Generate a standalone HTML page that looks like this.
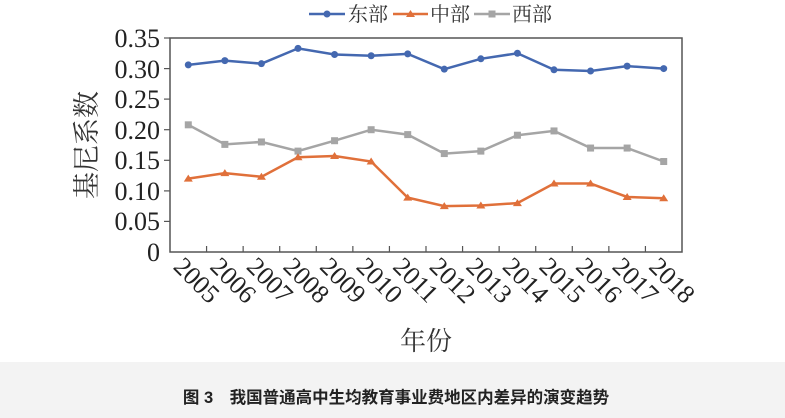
<!DOCTYPE html>
<html><head><meta charset="utf-8"><style>
html,body{margin:0;padding:0;background:#fff;width:785px;height:418px;overflow:hidden}
.serif{font-family:"Liberation Serif","Noto Serif CJK SC",serif}
</style></head><body>
<svg width="785" height="418" xmlns="http://www.w3.org/2000/svg" style="position:absolute;left:0;top:0">
<rect x="0" y="362" width="785" height="56" fill="#f3f3f3"/>
<text x="396" y="403" text-anchor="middle" font-family="'Liberation Sans','Noto Sans CJK SC',sans-serif" font-weight="bold" font-size="16.5" fill="#222">图 3　我国普通高中生均教育事业费地区内差异的演变趋势</text>
<rect x="170" y="38" width="512" height="214" fill="none" stroke="#555" stroke-width="1.5"/>
<g stroke="#555" stroke-width="1.2">
<line x1="164" y1="38" x2="170" y2="38"/><line x1="164" y1="68.6" x2="170" y2="68.6"/><line x1="164" y1="99.1" x2="170" y2="99.1"/><line x1="164" y1="129.7" x2="170" y2="129.7"/><line x1="164" y1="160.3" x2="170" y2="160.3"/><line x1="164" y1="190.9" x2="170" y2="190.9"/><line x1="164" y1="221.4" x2="170" y2="221.4"/>
</g>
<g id="xt" stroke="#555" stroke-width="1.2"></g>
<g class="serif" font-size="26" fill="#222" text-anchor="end">
<text x="160" y="47">0.35</text><text x="160" y="78">0.30</text><text x="160" y="108">0.25</text><text x="160" y="139">0.20</text><text x="160" y="169">0.15</text><text x="160" y="200">0.10</text><text x="160" y="230">0.05</text><text x="160" y="261">0</text>
</g>
<text class="serif" font-size="27" fill="#333" transform="translate(96,145) rotate(-90)" text-anchor="middle">基尼系数</text>
<text class="serif" font-size="26" fill="#333" x="426" y="350" text-anchor="middle">年份</text>
<line x1="309" y1="14" x2="345" y2="14" stroke="#4468b0" stroke-width="2.5"/><circle cx="327" cy="14" r="3.5" fill="#4468b0"/>
<text class="serif" font-size="20" fill="#333" x="348" y="21">东部</text>
<line x1="393" y1="14" x2="428" y2="14" stroke="#e0703a" stroke-width="2.5"/><path d="M410.5 10 L415 17 L406 17Z" fill="#e0703a"/>
<text class="serif" font-size="20" fill="#333" x="430" y="21">中部</text>
<line x1="474" y1="14" x2="510" y2="14" stroke="#a5a5a5" stroke-width="2.5"/><rect x="488.5" y="10.5" width="7" height="7" fill="#a5a5a5"/>
<text class="serif" font-size="20" fill="#333" x="512" y="21">西部</text>
<g id="series"></g>
<g id="xl" class="serif" font-size="26" fill="#222"></g>
</svg>
<script>
var NS="http://www.w3.org/2000/svg";
function X(i){return 170+36.571*(i+0.5)}
function Y(v){return 252-v/0.35*214}
var E=[.306,.313,.308,.333,.323,.321,.324,.299,.316,.325,.298,.296,.304,.300];
var C=[.120,.129,.123,.155,.157,.148,.089,.075,.076,.080,.112,.112,.090,.088];
var W=[.208,.176,.180,.165,.182,.200,.192,.161,.165,.191,.198,.170,.170,.148];
var s=document.getElementById('series'),xt=document.getElementById('xt'),xl=document.getElementById('xl');
for(var i=1;i<14;i++){var l=document.createElementNS(NS,'line');var x=170+36.571*i;l.setAttribute('x1',x);l.setAttribute('x2',x);l.setAttribute('y1',246);l.setAttribute('y2',252);xt.appendChild(l);}
for(var i=0;i<14;i++){var t=document.createElementNS(NS,'text');var x=X(i)-16,y=268;t.setAttribute('transform','translate('+x+','+y+') rotate(45)');t.textContent=2005+i;xl.appendChild(t);}
function draw(d,c,m){var p='';d.forEach(function(v,i){p+=(i?'L':'M')+X(i)+' '+Y(v)});var pa=document.createElementNS(NS,'path');pa.setAttribute('d',p);pa.setAttribute('fill','none');pa.setAttribute('stroke',c);pa.setAttribute('stroke-width','2.5');s.appendChild(pa);
d.forEach(function(v,i){var x=X(i),y=Y(v),e;if(m=='c'){e=document.createElementNS(NS,'circle');e.setAttribute('cx',x);e.setAttribute('cy',y);e.setAttribute('r',3.5);}else if(m=='t'){e=document.createElementNS(NS,'path');e.setAttribute('d','M'+x+' '+(y-4)+'L'+(x+4.5)+' '+(y+3)+'L'+(x-4.5)+' '+(y+3)+'Z');}else{e=document.createElementNS(NS,'rect');e.setAttribute('x',x-3.5);e.setAttribute('y',y-3.5);e.setAttribute('width',7);e.setAttribute('height',7);}e.setAttribute('fill',c);s.appendChild(e);});}
draw(W,'#a5a5a5','s');draw(C,'#e0703a','t');draw(E,'#4468b0','c');
</script>
</body></html>
